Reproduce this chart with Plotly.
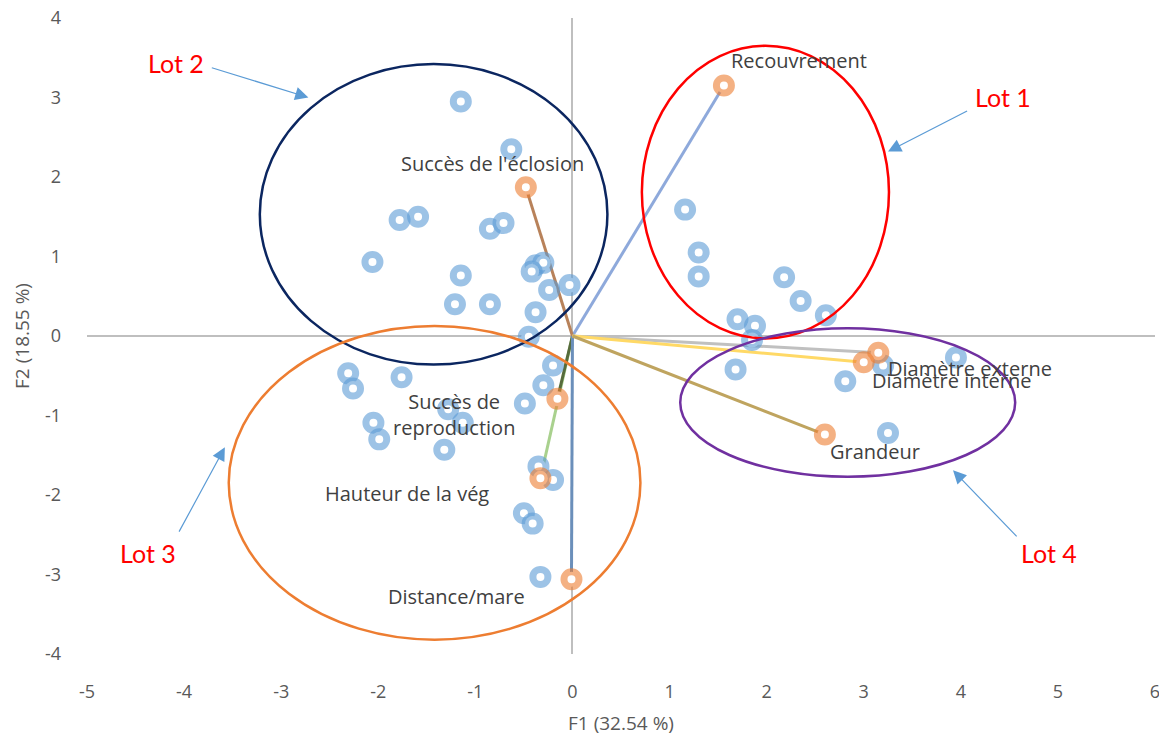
import plotly.graph_objects as go

# ---------------- data ----------------
obs_x = [-1.15, -0.63, -1.78, -1.59, -0.85, -0.71, -2.06, -1.15, -0.38, -0.30, -0.42,
         -0.24, -0.03, -1.21, -0.85, -0.38, -0.45,
         -2.31, -2.26, -1.76, -0.20, -0.30, -0.49, -1.28, -1.13, -2.05, -1.99, -1.32,
         -0.35, -0.20, -0.50, -0.41, -0.33,
         1.16, 1.30, 1.30, 2.18, 2.35, 2.61, 1.70, 1.88, 1.85,
         1.68, 2.81, 3.95, 3.25, 3.20]
obs_y = [2.95, 2.35, 1.46, 1.50, 1.35, 1.42, 0.93, 0.76, 0.89, 0.92, 0.81,
         0.58, 0.64, 0.40, 0.40, 0.30, -0.01,
         -0.47, -0.66, -0.52, -0.37, -0.62, -0.85, -0.92, -1.09, -1.09, -1.30, -1.43,
         -1.64, -1.81, -2.23, -2.36, -3.03,
         1.59, 1.05, 0.75, 0.74, 0.44, 0.26, 0.21, 0.13, -0.05,
         -0.42, -0.57, -0.27, -1.22, -0.37]

var_names = ["Recouvrement", "Succès de l'éclosion", "Succès de<br>reproduction",
             "Hauteur de la vég", "Distance/mare", "Diamètre externe",
             "Diamètre interne", "Grandeur"]
var_x = [1.56, -0.48, -0.155, -0.33, -0.01, 3.15, 3.00, 2.60]
var_y = [3.15, 1.87, -0.79, -1.79, -3.06, -0.21, -0.33, -1.24]

lot_names = ["Lot 1", "Lot 2", "Lot 3", "Lot 4"]

x_tickvals = [-5, -4, -3, -2, -1, 0, 1, 2, 3, 4, 5, 6]
x_ticktext = ["-5", "-4", "-3", "-2", "-1", "0", "1", "2", "3", "4", "5", "6"]
y_tickvals = [-4, -3, -2, -1, 0, 1, 2, 3, 4]
y_ticktext = ["-4", "-3", "-2", "-1", "0", "1", "2", "3", "4"]

x_title = "F1 (32.54 %)"
y_title = "F2 (18.55 %)"

# ---------------- styles ----------------
line_colors = ["#8EA9DB", "#B8825A", "#566B3C", "#A9D18E", "#6B8FBA",
               "#C0C0C0", "#FFD966", "#BFA45F"]
draw_order = [3, 2, 0, 1, 4, 5, 6, 7]
label_shift = [(75, 25), (-33, 24), (-103, -16), (-133, -15), (-115, -17),
               (92, -16), (88, -18), (50, -17)]

ellipses = {
    "Lot 1": dict(x0=0.715, x1=3.26, y0=-0.03, y1=3.65, color="#FF0000"),
    "Lot 2": dict(x0=-3.22, x1=0.36, y0=-0.36, y1=3.42, color="#0B2660"),
    "Lot 3": dict(x0=-3.54, x1=0.70, y0=-3.82, y1=0.126, color="#ED7D31"),
    "Lot 4": dict(x0=1.11, x1=4.56, y0=-1.77, y1=0.097, color="#7030A0"),
}
lot_text_pos = {"Lot 1": (4.43, 3.01), "Lot 2": (-4.08, 3.43),
                "Lot 3": (-4.37, -2.73), "Lot 4": (4.91, -2.73)}
lot_arrows = {"Lot 1": ((4.08, 2.84), (3.25, 2.32)),
              "Lot 2": ((-3.73, 3.38), (-2.72, 3.00)),
              "Lot 3": ((-4.06, -2.48), (-3.58, -1.40)),
              "Lot 4": ((4.59, -2.54), (3.92, -1.69))}

fig = go.Figure()

for i in draw_order:
    fig.add_trace(go.Scatter(x=[0, var_x[i]], y=[0, var_y[i]], mode="lines",
                             line=dict(color=line_colors[i], width=3),
                             hoverinfo="skip", showlegend=False))

fig.add_trace(go.Scatter(x=obs_x, y=obs_y, mode="markers", showlegend=False,
                         marker=dict(symbol="circle", size=15, color="white",
                                     line=dict(color="rgba(91,155,213,0.6)", width=7))))
fig.add_trace(go.Scatter(x=var_x, y=var_y, mode="markers", showlegend=False,
                         marker=dict(symbol="circle", size=15, color="white",
                                     line=dict(color="rgba(237,125,49,0.6)", width=7))))

annotations = []
for i, name in enumerate(var_names):
    dx, dy = label_shift[i]
    annotations.append(dict(x=var_x[i], y=var_y[i], text=name, showarrow=False,
                            xshift=dx, yshift=dy, xanchor="center", yanchor="middle",
                            font=dict(family="Open Sans", size=20, color="#404040")))

shapes = []
for name in lot_names:
    e = ellipses[name]
    shapes.append(dict(type="circle", xref="x", yref="y", x0=e["x0"], x1=e["x1"],
                       y0=e["y0"], y1=e["y1"], line=dict(color=e["color"], width=2.5),
                       layer="above"))
    tx, ty = lot_text_pos[name]
    annotations.append(dict(x=tx, y=ty, text=name, showarrow=False,
                            font=dict(family="Lato", size=25, color="#FF0000")))
    (sx, sy), (ex, ey) = lot_arrows[name]
    annotations.append(dict(x=ex, y=ey, ax=sx, ay=sy, axref="x", ayref="y",
                            xref="x", yref="y", text="", showarrow=True,
                            arrowhead=2, arrowsize=2.2, arrowwidth=1.2,
                            arrowcolor="#5B9BD5"))

axis_font = dict(family="Open Sans", size=18, color="#595959")
title_font = dict(family="Open Sans", size=19, color="#595959")

# page body has an 8px margin: size the figure so it fits the 1167x736 window
fig.update_layout(
    width=1159, height=728,
    margin=dict(l=79, r=12, t=10, b=82),
    plot_bgcolor="white", paper_bgcolor="white",
    shapes=shapes, annotations=annotations,
    xaxis=dict(range=[-5, 6], tickmode="array", tickvals=x_tickvals, ticktext=x_ticktext,
               showgrid=False, zeroline=True, automargin=False, ticklabeloverflow="allow",
               zerolinecolor="#BFBFBF", zerolinewidth=1.5, showline=False,
               ticks="", ticklabelstandoff=25, tickfont=axis_font,
               title=dict(text=x_title, font=title_font, standoff=20)),
    yaxis=dict(range=[-4, 4], tickmode="array", tickvals=y_tickvals, ticktext=y_ticktext,
               showgrid=False, zeroline=True, automargin=False, ticklabeloverflow="allow",
               zerolinecolor="#BFBFBF", zerolinewidth=1.5, showline=False,
               ticks="", ticklabelstandoff=25, tickfont=axis_font,
               title=dict(text=y_title, font=title_font, standoff=10)),
)

fig.write_html("out.html")
